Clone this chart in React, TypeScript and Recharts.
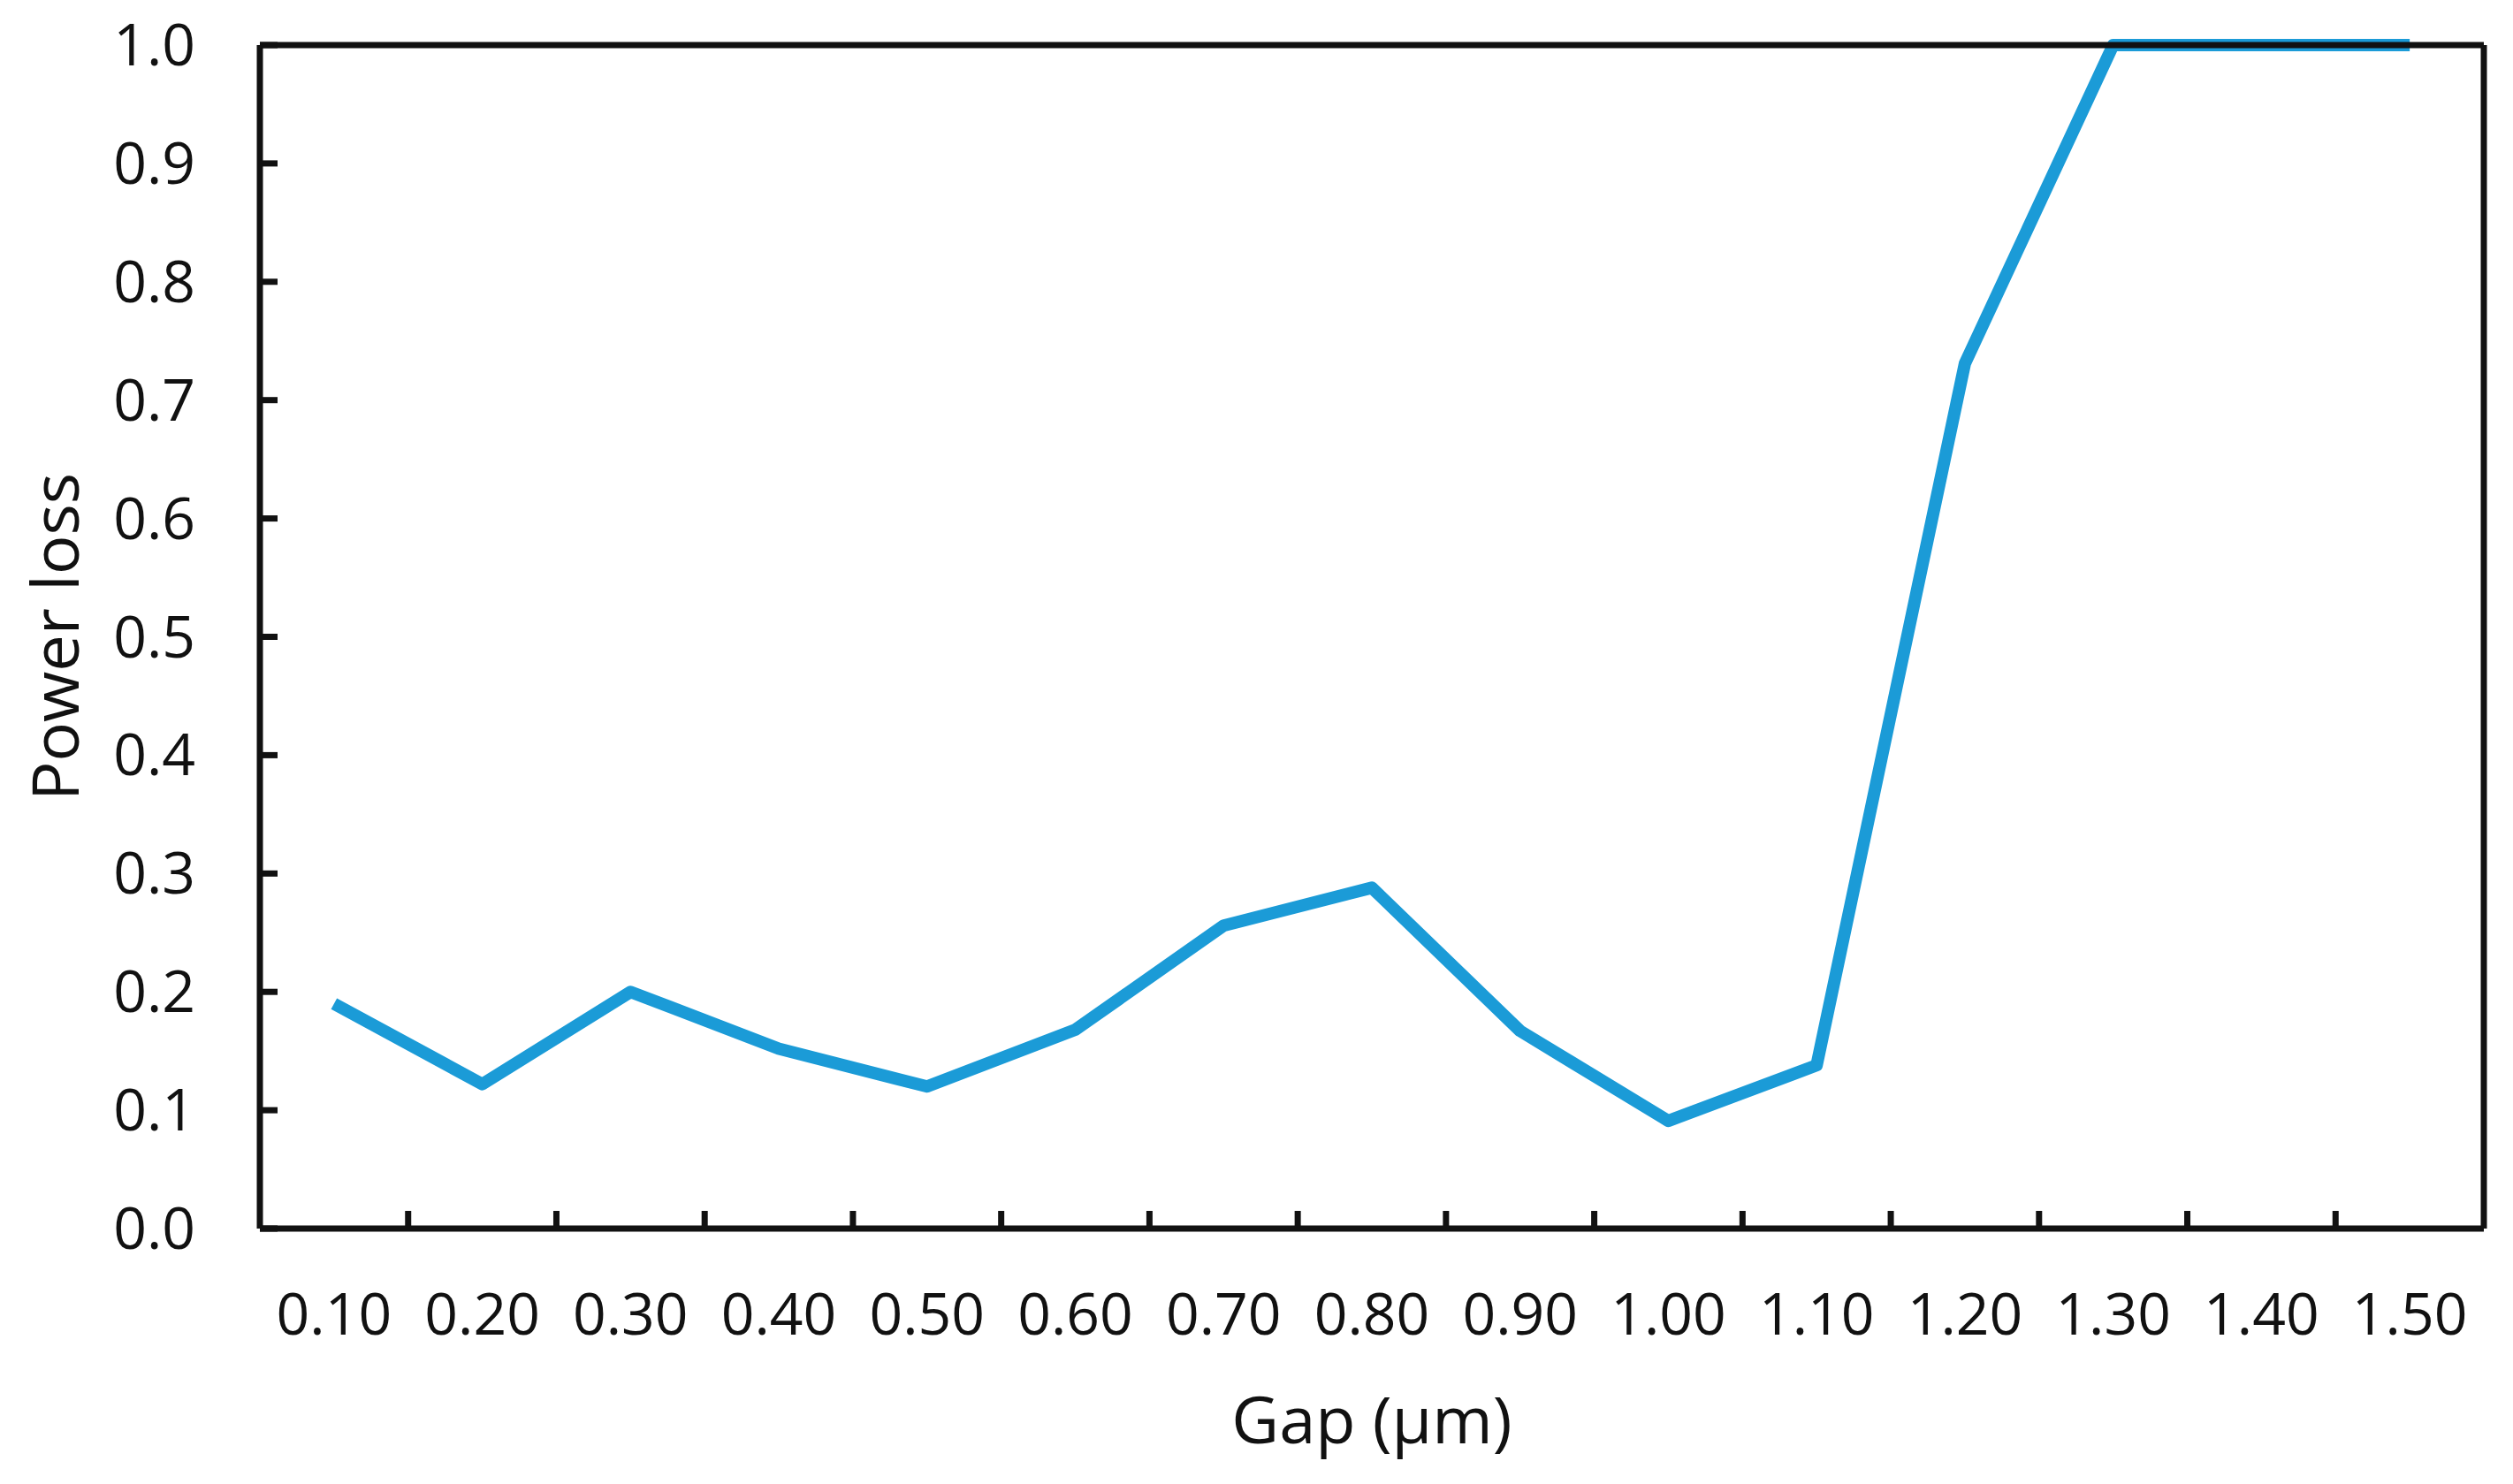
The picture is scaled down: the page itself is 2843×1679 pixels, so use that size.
import { LineChart, Line, XAxis, YAxis } from "recharts";

const GAPS = ["0.10", "0.20", "0.30", "0.40", "0.50", "0.60", "0.70", "0.80", "0.90", "1.00", "1.10", "1.20", "1.30", "1.40", "1.50"];
const POWER_LOSS = [0.19, 0.122, 0.2, 0.152, 0.12, 0.168, 0.256, 0.288, 0.167, 0.091, 0.138, 0.731, 1.0, 1.0, 1.0];
const Y_TICKS = [0, 0.1, 0.2, 0.3, 0.4, 0.5, 0.6, 0.7, 0.8, 0.9, 1.0];

const W = 2843;
const H = 1679;
const LEFT = 294;
const RIGHT = 2810;
const TOP = 51;
const BOTTOM = 1390;
const PLOT_W = RIGHT - LEFT;
const BAND = PLOT_W / GAPS.length;

const FONT = "'Open Sans', 'Noto Sans', sans-serif";
const INK = "#111";
const BLUE = "#1B9BD7";
const AXIS_W = 7;
const TICK_LEN = 20;

const data = GAPS.map((gap, i) => ({ gap, loss: POWER_LOSS[i] }));

// labels sit at band centres, tick marks at band edges pointing inward
const XTick = ({ x, y, payload, index }: any) => (
  <g>
    {index < GAPS.length - 1 && (
      <line x1={x + BAND / 2} x2={x + BAND / 2} y1={y} y2={y - TICK_LEN} stroke={INK} strokeWidth={AXIS_W} />
    )}
    <text x={x} y={y + 120} textAnchor="middle" fontFamily={FONT} fontSize={66} fill={INK}>
      {payload.value}
    </text>
  </g>
);

const YTick = ({ x, y, payload }: any) => (
  <g>
    <line x1={x} x2={x + TICK_LEN} y1={y} y2={y} stroke={INK} strokeWidth={AXIS_W} />
    <text x={x - 73} y={y + 23} textAnchor="end" fontFamily={FONT} fontSize={66} fill={INK}>
      {Number(payload.value).toFixed(1)}
    </text>
  </g>
);

export default function App() {
  return (
    <div style={{ position: "absolute", left: 0, top: 0, width: W, height: H, background: "#fff" }}>
      <LineChart width={W} height={H} data={data} margin={{ top: TOP - 1, right: W - RIGHT - 1, left: 0, bottom: 0 }}>
        <XAxis
          dataKey="gap"
          height={H - BOTTOM}
          padding={{ left: BAND / 2, right: BAND / 2 }}
          tick={<XTick />}
          tickLine={false}
          tickSize={0}
          tickMargin={0}
          interval={0}
          axisLine={{ stroke: INK, strokeWidth: AXIS_W }}
        />
        <XAxis
          xAxisId="top"
          dataKey="gap"
          orientation="top"
          height={1}
          padding={{ left: BAND / 2, right: BAND / 2 }}
          tick={false}
          tickLine={false}
          axisLine={{ stroke: INK, strokeWidth: AXIS_W }}
        />
        <YAxis
          width={LEFT}
          domain={[0, 1]}
          ticks={Y_TICKS}
          tick={<YTick />}
          tickLine={false}
          tickSize={0}
          tickMargin={0}
          interval={0}
          axisLine={{ stroke: INK, strokeWidth: AXIS_W }}
        />
        <YAxis yAxisId="right" orientation="right" width={1} domain={[0, 1]} tick={false} tickLine={false} axisLine={{ stroke: INK, strokeWidth: AXIS_W }} />
        <Line
          type="linear"
          dataKey="loss"
          stroke={BLUE}
          strokeWidth={14}
          strokeLinejoin="round"
          dot={false}
          activeDot={false}
          isAnimationActive={false}
        />
      </LineChart>
      <svg width={W} height={H} style={{ position: "absolute", left: 0, top: 0, pointerEvents: "none" }}>
        <text x={(LEFT + RIGHT) / 2} y={1633} textAnchor="middle" fontFamily={FONT} fontSize={74} fill={INK}>
          Gap (µm)
        </text>
        <text
          x={89}
          y={(TOP + BOTTOM) / 2}
          transform={`rotate(-90, 89, ${(TOP + BOTTOM) / 2})`}
          textAnchor="middle"
          fontFamily={FONT}
          fontSize={74}
          fill={INK}
        >
          Power loss
        </text>
      </svg>
    </div>
  );
}
